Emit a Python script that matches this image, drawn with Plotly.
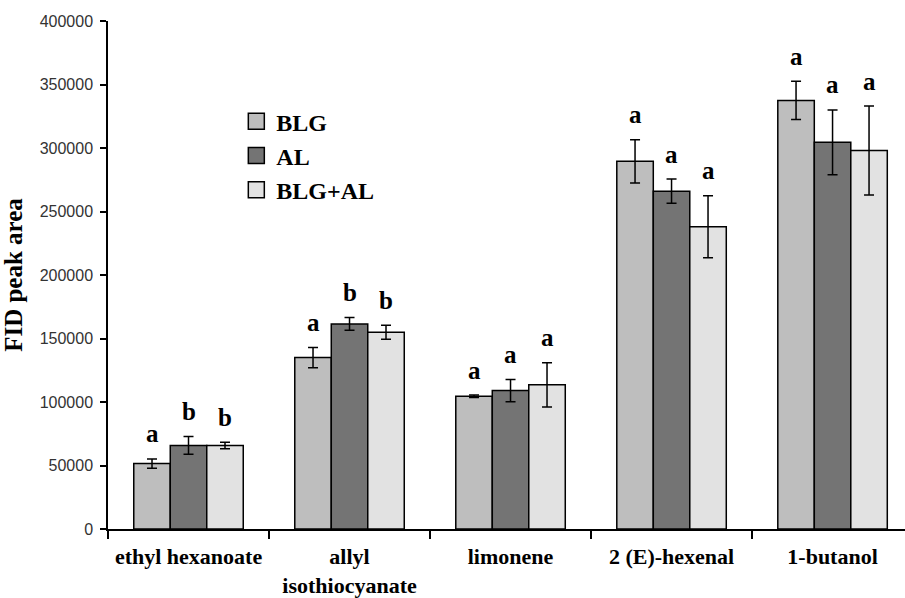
import plotly.graph_objects as go

categories = ["ethyl hexanoate", "allyl<br>isothiocyanate", "limonene", "2 (E)-hexenal", "1-butanol"]
series_names = ["BLG", "AL", "BLG+AL"]
blg = [51500, 135000, 104500, 289500, 337500]
al = [65800, 161500, 109000, 266000, 304500]
blg_al = [65800, 155000, 113500, 238000, 298000]
blg_err = [3700, 8000, 1000, 17000, 15000]
al_err = [7000, 5000, 8800, 9500, 25500]
blg_al_err = [2600, 5500, 17500, 24500, 35000]
blg_letters = ["a", "a", "a", "a", "a"]
al_letters = ["b", "b", "a", "a", "a"]
blg_al_letters = ["b", "b", "a", "a", "a"]

values = [blg, al, blg_al]
errors = [blg_err, al_err, blg_al_err]
letters = [blg_letters, al_letters, blg_al_letters]
colors = ["#bebebe", "#747474", "#e2e2e2"]

W, H = 905, 598
ml, mr, mt, mb = 108, 0, 21, 69
bargap = 0.32
x_range = [-0.5, 4.45]
serif = "Liberation Serif"

fig = go.Figure()
for name, vals, errs, col in zip(series_names, values, errors, colors):
    fig.add_trace(go.Bar(
        name=name, x=categories, y=vals, showlegend=False,
        marker=dict(color=col, line=dict(color="black", width=1.5)),
        error_y=dict(type="data", array=errs, visible=True, color="black", thickness=1.5, width=5),
    ))
# legend entries with larger square symbols
for name, col in zip(series_names, colors):
    fig.add_trace(go.Scatter(
        name=name, x=[None], y=[None], mode="markers", showlegend=True,
        marker=dict(symbol="square", size=16, color=col, line=dict(color="black", width=1.5)),
    ))

px_per_unit = (W - ml - mr) / (x_range[1] - x_range[0])
bar_w = px_per_unit * (1 - bargap) / 3
annotations = []
for k, (vals, errs, lets) in enumerate(zip(values, errors, letters)):
    for i, cat in enumerate(categories):
        annotations.append(dict(
            x=cat, y=vals[i] + errs[i], xref="x", yref="y",
            text=lets[i], showarrow=False, xshift=(k - 1) * bar_w, yshift=25,
            yanchor="middle",
            font=dict(family=serif, size=25, color="black", weight="bold"),
        ))

fig.update_layout(
    width=W, height=H,
    margin=dict(l=ml, r=mr, t=mt, b=mb),
    paper_bgcolor="white", plot_bgcolor="white",
    barmode="group", bargap=bargap, bargroupgap=0,
    showlegend=True,
    legend=dict(x=0.161, y=0.846, xanchor="left", yanchor="top",
                font=dict(family=serif, size=24, color="black", weight="bold"),
                bgcolor="rgba(0,0,0,0)", itemwidth=30),
    annotations=annotations,
    xaxis=dict(
        range=x_range, showline=True, linecolor="black", linewidth=1.5,
        ticks="outside", tickson="boundaries", ticklen=8, tickcolor="black", tickwidth=1.5,
        ticklabelstandoff=7, automargin=False,
        tickfont=dict(family=serif, size=22, color="black", weight="bold"),
        showgrid=False,
    ),
    yaxis=dict(
        range=[0, 400000], dtick=50000, tickformat="d", showline=True, linecolor="black", linewidth=1.5,
        ticks="outside", ticklen=6, tickcolor="black", tickwidth=1.5,
        ticklabelstandoff=4, automargin=False,
        tickfont=dict(family="Liberation Sans", size=16, color="#333333"),
        showgrid=False, zeroline=False,
        title=dict(text="FID peak area", standoff=12,
                   font=dict(family=serif, size=25, color="black", weight="bold")),
    ),
)

fig.write_html("out.html")
